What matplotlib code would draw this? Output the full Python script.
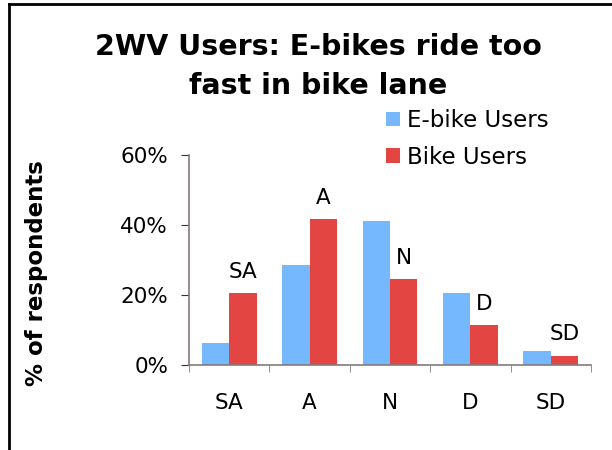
import numpy as np
import matplotlib.pyplot as plt
from matplotlib.lines import Line2D
from matplotlib.ticker import PercentFormatter

# Survey responses (share of respondents)
categories = ['SA', 'A', 'N', 'D', 'SD']
ebike_users = [6.4, 28.6, 41.1, 20.6, 4.0]
bike_users = [20.6, 41.7, 24.6, 11.4, 2.7]
title_lines = ['2WV Users: E-bikes ride too', 'fast in bike lane']

blue = '#75b8fd'
red = '#e24542'
axis_grey = '#857b79'
fs = 15.5

plt.rcParams['font.family'] = 'DejaVu Sans'

fig = plt.figure(figsize=(6.12, 4.5), dpi=100)
ax = fig.add_axes([189/612, 85/450, 402/612, 210/450])

x = np.arange(len(categories))
w = 0.34
ax.bar(x - w/2, ebike_users, w, color=blue, label='E-bike Users')
red_bars = ax.bar(x + w/2, bike_users, w, color=red, label='Bike Users')
ax.bar_label(red_bars, labels=categories, padding=8, fontsize=fs)

ax.set_xlim(-0.5, len(categories) - 0.5)
ax.set_ylim(0, 60)
ax.set_yticks([0, 20, 40, 60])
ax.yaxis.set_major_formatter(PercentFormatter(decimals=0))
ax.tick_params(axis='y', labelsize=fs, length=6, pad=9, color='#333333')

ax.set_xticks(x)
ax.set_xticklabels(categories)
ax.set_xticks(np.arange(-0.5, len(categories)), minor=True)
ax.tick_params(axis='x', which='major', length=0, labelsize=fs, pad=20)
ax.tick_params(axis='x', which='minor', length=5, color=axis_grey)

for s in ['top', 'right']:
    ax.spines[s].set_visible(False)
for s in ['left', 'bottom']:
    ax.spines[s].set_color(axis_grey)
    ax.spines[s].set_linewidth(1.2)

ax.set_ylabel('% of respondents', fontsize=16.5, fontweight='bold')
ax.yaxis.set_label_coords(-0.351, 0.44)

fig.legend(loc='upper left', bbox_to_anchor=(386/612, 1 - 109/450),
           frameon=False, fontsize=16.5, borderpad=0, borderaxespad=0,
           handlelength=0.6, handleheight=0.6, handletextpad=0.3,
           labelspacing=0.6)

# two-line title
fig.text(318/612, 1 - 55/450, title_lines[0], ha='center', va='baseline',
         fontsize=20.5, fontweight='bold')
fig.text(318/612, 1 - 94/450, title_lines[1], ha='center', va='baseline',
         fontsize=20.5, fontweight='bold')

# outer frame (left and top edges visible)
fig.add_artist(Line2D([9/612, 9/612], [0, 1 - 4/450], color='black', lw=2))
fig.add_artist(Line2D([9/612, 1], [1 - 4/450, 1 - 4/450], color='black', lw=2))

fig.savefig('out.png', dpi=100)
